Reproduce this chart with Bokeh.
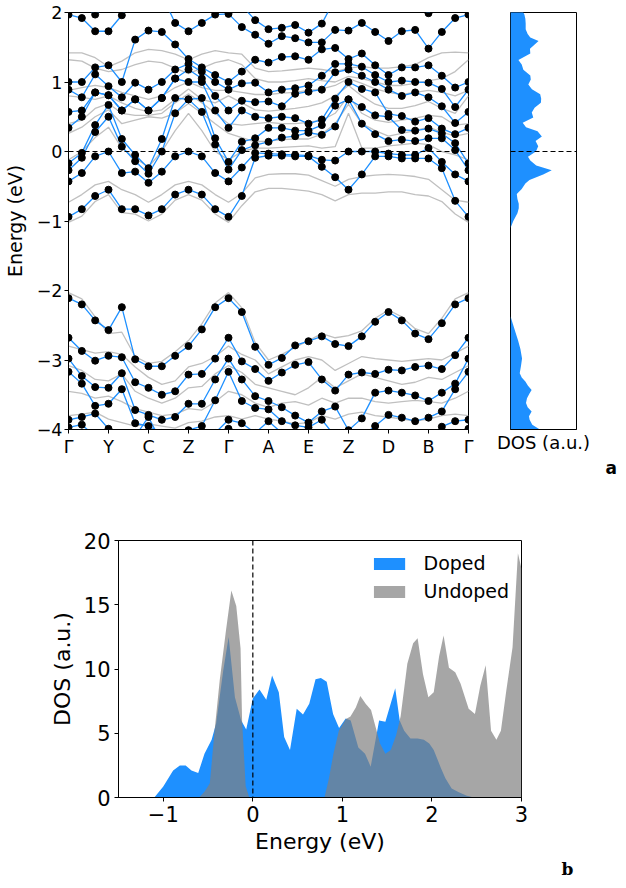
from bokeh.plotting import figure
from bokeh.layouts import column, row
from bokeh.models import FixedTicker, Span, Legend, LegendItem, Title
from bokeh.embed import file_html
from bokeh.resources import INLINE

FONT = "DejaVu Sans"
BLUE = "#1E90FF"

# ---------------- band structure data ----------------
kpath_labels = ["Γ", "Y", "C", "Z", "Γ", "A", "E", "Z", "D", "B", "Γ"]
k_index = list(range(31))          # 3 k-points per path segment

# doped (blue, with markers) conduction-side bands
cb1 = [-0.94,-0.83,-0.64,-0.55,-0.83,-0.83,-0.92,-0.83,-0.62,-0.55,-0.62,-0.83,-0.94,-0.64,-0.09,-0.06,-0.06,-0.07,-0.07,-0.22,-0.37,-0.55,-0.33,-0.07,-0.07,-0.10,-0.10,-0.10,-0.24,-0.71,-0.94]
cb2 = [-0.43,-0.31,-0.07,0.00,-0.31,-0.29,-0.45,-0.29,-0.07,0.00,-0.07,-0.31,-0.43,-0.23,-0.02,-0.03,-0.04,-0.05,-0.06,-0.12,-0.13,0.00,0.00,0.00,-0.03,-0.05,-0.05,0.05,-0.15,-0.33,-0.43]
cb3 = [-0.27,-0.09,0.28,0.50,0.07,-0.14,-0.32,0.00,0.55,0.75,0.57,0.10,-0.26,0.02,0.09,0.14,0.20,0.22,0.27,0.24,0.36,0.75,0.40,0.25,0.15,0.17,0.15,0.19,0.19,0.02,-0.27]
cb4 = [-0.17,-0.02,0.38,0.67,0.18,-0.05,-0.24,0.18,0.77,0.75,0.77,0.19,-0.15,0.14,0.19,0.34,0.34,0.30,0.30,0.38,0.66,0.75,0.64,0.52,0.50,0.31,0.30,0.33,0.26,0.12,-0.17]
cb5 = [0.34,0.50,0.85,0.81,0.59,0.75,0.59,0.77,1.05,1.00,1.00,0.59,0.34,0.59,0.50,0.48,0.50,0.48,0.40,0.46,0.76,1.00,0.90,0.85,0.54,0.51,0.43,0.48,0.33,0.25,0.34]
cb6 = [0.57,0.59,0.85,0.81,0.59,0.75,0.59,0.77,1.05,1.18,1.05,0.80,0.59,0.73,0.71,0.72,0.65,0.83,0.86,0.89,1.14,1.18,1.09,1.00,0.89,0.80,0.85,0.78,0.65,0.41,0.57]
cb7 = [0.89,0.78,1.11,0.94,0.78,0.99,0.89,1.00,1.18,1.26,1.15,1.00,0.89,0.98,0.99,0.85,0.89,0.91,0.95,1.09,1.26,1.26,1.22,1.10,1.00,1.02,1.00,0.99,0.90,0.64,0.89]
cb8 = [1.00,1.00,1.21,1.24,1.00,1.61,1.74,1.72,1.54,1.33,1.21,1.10,1.00,1.15,1.32,1.28,1.36,1.37,1.32,1.47,1.49,1.33,1.41,1.24,1.10,1.21,1.21,1.24,1.09,0.92,1.00]
cb9 = [1.97,1.92,1.73,1.73,1.96,2.25,2.40,2.25,1.85,1.73,1.85,1.97,1.98,1.79,1.68,1.55,1.66,1.63,1.57,1.57,1.75,1.74,1.85,1.72,1.59,1.73,1.75,1.48,1.72,1.92,1.97]
cb10 = [2.30,2.12,1.97,2.12,2.30,2.50,2.50,2.50,2.40,2.30,2.30,2.20,2.30,2.10,1.89,1.76,1.78,1.82,1.71,1.84,2.20,2.30,2.30,2.30,2.20,2.20,2.10,1.99,2.20,2.30,2.30]

# doped valence bands
vb1 = [-2.11,-2.20,-2.43,-2.57,-2.24,-2.99,-3.09,-3.09,-2.94,-2.80,-2.56,-2.24,-2.11,-2.31,-2.81,-3.07,-2.97,-2.79,-2.73,-2.66,-2.77,-2.80,-2.66,-2.45,-2.31,-2.43,-2.62,-2.70,-2.47,-2.20,-2.11]
vb2 = [-2.68,-2.87,-3.01,-2.94,-2.96,-3.32,-3.40,-3.50,-3.45,-3.21,-3.20,-2.98,-2.68,-3.02,-3.13,-3.30,-3.18,-3.07,-3.03,-3.28,-3.44,-3.21,-3.18,-3.20,-3.14,-3.15,-3.10,-3.08,-3.13,-2.93,-2.68]
vb3 = [-2.98,-3.23,-3.39,-3.40,-3.19,-3.72,-3.79,-3.86,-3.82,-3.63,-3.63,-3.28,-2.98,-3.28,-3.52,-3.59,-3.68,-3.80,-3.90,-3.74,-3.67,-4.01,-3.84,-3.47,-3.44,-3.47,-3.51,-3.59,-3.47,-3.34,-2.98]
vb4 = [-3.17,-3.34,-3.66,-3.63,-3.42,-3.91,-3.95,-4.05,-4.10,-4.01,-3.95,-3.58,-3.17,-3.59,-3.69,-3.71,-3.88,-3.94,-3.97,-3.86,-4.10,-4.20,-4.10,-3.95,-3.79,-3.83,-3.88,-3.83,-3.74,-3.42,-3.17]
vb5 = [-3.86,-3.82,-3.77,-3.99,-4.15,-4.10,-3.82,-4.20,-4.20,-4.20,-4.15,-4.05,-3.86,-3.91,-4.05,-3.88,-4.05,-4.10,-4.15,-4.20,-4.20,-4.20,-4.20,-4.20,-4.20,-4.20,-4.20,-4.15,-3.96,-3.88,-3.86]
vb6 = [-3.97,-3.93,-4.10,-4.20,-4.30,-4.20,-4.20,-4.20,-4.30,-4.30,-4.30,-4.20,-3.99,-4.10,-4.20,-4.20,-4.20,-4.20,-4.20,-4.20,-4.20,-4.20,-4.20,-4.20,-4.20,-4.20,-4.20,-4.20,-4.10,-4.05,-3.99]

# undoped (gray) bands
gc1 = [-1.02,-0.93,-0.72,-0.62,-0.88,-0.90,-1.00,-0.90,-0.70,-0.62,-0.70,-0.90,-1.02,-0.78,-0.58,-0.53,-0.53,-0.55,-0.57,-0.62,-0.71,-0.62,-0.60,-0.60,-0.58,-0.58,-0.62,-0.64,-0.72,-0.90,-1.02]
gc2 = [-0.73,-0.62,-0.48,-0.43,-0.55,-0.62,-0.73,-0.62,-0.48,-0.43,-0.48,-0.62,-0.73,-0.60,-0.38,-0.33,-0.32,-0.32,-0.34,-0.42,-0.50,-0.40,-0.36,-0.34,-0.33,-0.34,-0.36,-0.40,-0.55,-0.70,-0.73]
gc3 = [-0.12,0.00,0.20,0.35,0.05,-0.10,-0.22,0.00,0.30,0.55,0.30,0.00,-0.12,0.00,0.05,0.05,0.06,0.07,0.08,0.05,0.07,0.55,0.05,0.05,0.08,0.10,0.12,0.10,0.00,-0.05,-0.12]
gc4 = [0.26,0.35,0.50,0.60,0.40,0.45,0.50,0.48,0.55,0.69,0.55,0.40,0.26,0.20,0.14,0.15,0.17,0.18,0.18,0.25,0.40,0.68,0.40,0.30,0.22,0.26,0.30,0.35,0.28,0.22,0.26]
gc5 = [0.40,0.45,0.62,0.69,0.55,0.52,0.52,0.55,0.70,0.83,0.70,0.55,0.40,0.38,0.40,0.42,0.40,0.40,0.42,0.45,0.55,0.80,0.55,0.45,0.42,0.45,0.48,0.52,0.50,0.38,0.40]
gc6 = [0.80,0.78,0.75,0.80,0.70,0.62,0.57,0.60,0.75,0.90,0.75,0.70,0.80,0.70,0.60,0.58,0.60,0.62,0.65,0.70,0.80,0.95,0.80,0.68,0.62,0.62,0.66,0.72,0.62,0.55,0.80]
gc7 = [0.88,0.92,0.95,0.92,0.85,0.80,0.75,0.80,0.92,1.00,0.92,0.88,0.88,0.85,0.82,0.82,0.84,0.85,0.88,0.90,0.95,1.05,0.98,0.90,0.85,0.82,0.85,0.88,0.85,0.80,0.88]
gc8 = [1.32,1.30,1.20,1.15,1.18,1.25,1.30,1.28,1.20,1.12,1.20,1.28,1.32,1.25,1.05,1.00,1.00,1.02,1.05,1.02,1.00,1.08,1.05,1.00,0.95,0.95,0.98,1.02,1.05,1.15,1.32]
gc9 = [1.42,1.42,1.35,1.22,1.30,1.42,1.47,1.45,1.40,1.32,1.40,1.45,1.42,1.40,1.20,1.15,1.16,1.18,1.20,1.18,1.15,1.20,1.22,1.20,1.20,1.22,1.25,1.35,1.42,1.43,1.42]
gv1 = [-2.03,-2.12,-2.38,-2.62,-2.60,-2.95,-3.05,-3.02,-2.88,-2.72,-2.48,-2.18,-2.03,-2.25,-2.75,-3.00,-2.92,-2.82,-2.72,-2.62,-2.68,-2.65,-2.58,-2.40,-2.28,-2.38,-2.55,-2.62,-2.40,-2.12,-2.03]
gv2 = [-2.80,-2.85,-2.90,-2.88,-2.92,-3.10,-3.25,-3.35,-3.30,-3.10,-3.05,-2.95,-2.80,-2.92,-3.00,-3.20,-3.10,-3.00,-2.95,-3.00,-3.15,-3.05,-2.95,-2.98,-3.00,-3.02,-3.00,-2.98,-3.00,-2.90,-2.80]
gv3 = [-3.08,-3.15,-3.28,-3.30,-3.20,-3.45,-3.55,-3.62,-3.55,-3.40,-3.38,-3.20,-3.08,-3.18,-3.35,-3.40,-3.45,-3.50,-3.40,-3.25,-3.40,-3.30,-3.20,-3.25,-3.30,-3.35,-3.32,-3.25,-3.28,-3.18,-3.08]
gv4 = [-3.45,-3.48,-3.55,-3.52,-3.60,-3.70,-3.75,-3.80,-3.78,-3.70,-3.72,-3.60,-3.45,-3.50,-3.62,-3.68,-3.62,-3.60,-3.65,-3.55,-3.62,-3.55,-3.55,-3.60,-3.62,-3.60,-3.58,-3.60,-3.62,-3.55,-3.45]
gv5 = [-3.80,-3.78,-3.75,-3.85,-3.90,-3.95,-3.92,-3.95,-3.98,-3.90,-3.88,-3.82,-3.80,-3.85,-3.80,-3.85,-3.88,-3.92,-3.90,-3.80,-3.85,-3.78,-3.75,-3.80,-3.82,-3.85,-3.88,-3.85,-3.80,-3.78,-3.80]

# ---------------- DOS data ----------------
E_doped = [-4.00,-3.93,-3.86,-3.81,-3.74,-3.68,-3.62,-3.55,-3.48,-3.43,-3.37,-3.31,-3.25,-3.19,-3.08,-2.98,-2.84,-2.72,-2.60,-2.48,-2.37,
           -1.10,-1.00,-0.89,-0.815,-0.75,-0.685,-0.61,-0.54,-0.46,-0.41,-0.33,-0.27,-0.20,-0.13,-0.074,0.00,0.074,0.15,0.215,0.29,0.35,
           0.415,0.49,0.56,0.63,0.70,0.76,0.825,0.896,0.963,1.037,1.093,1.178,1.253,1.316,1.41,1.48,1.59,1.64,1.69,1.76,1.84,1.91,1.97,
           2.02,2.10,2.15,2.22,2.30,2.39,2.47,3.00]
dos_doped = [8.9,6.6,5.8,5.6,6.4,5.2,4.7,5.0,5.8,6.4,5.3,4.5,3.4,2.8,3.2,3.5,3.0,2.3,1.5,0.7,0.0,
             0.0,0.85,2.1,2.5,2.5,2.1,1.9,3.4,4.5,5.75,9.9,12.5,7.8,6.0,5.3,7.7,8.4,7.6,9.5,8.2,4.7,
             3.7,6.9,6.45,7.3,9.2,9.3,9.0,6.5,5.4,6.15,6.0,3.9,3.4,2.4,6.0,5.9,8.5,6.0,5.2,4.6,4.6,4.5,4.2,
             3.7,2.3,1.5,0.7,0.4,0.13,0.0,0.0]
E_undoped = [-0.60,-0.54,-0.48,-0.43,-0.37,-0.30,-0.24,-0.185,-0.137,-0.12,-0.08,-0.04,0.80,0.85,0.90,0.96,1.04,1.09,1.15,1.20,
             1.26,1.32,1.37,1.42,1.48,1.54,1.60,1.65,1.725,1.79,1.84,1.90,1.96,2.02,2.08,2.13,2.19,2.26,2.32,2.41,2.48,2.54,2.60,
             2.66,2.72,2.77,2.83,2.90,2.96,3.00]
dos_undoped = [0.0,0.45,1.1,5.0,9.1,13.0,16.1,14.9,11.6,6.0,0.9,0.0,0.0,1.5,3.4,5.2,6.1,6.3,7.0,7.9,
               7.3,6.8,5.5,4.2,3.4,3.7,4.85,6.3,10.4,12.0,12.4,9.6,7.8,8.2,11.0,12.6,10.1,9.75,8.85,6.9,6.5,8.7,10.3,
               5.2,4.5,5.2,8.3,11.7,19.0,17.8]


def minus(v):
    return ("−" + str(abs(v))) if v < 0 else str(v)


def base_style(p, tick_px, label_px):
    p.grid.visible = False
    p.background_fill_color = "white"
    p.border_fill_color = "white"
    p.outline_line_color = "black"
    p.outline_line_width = 1
    p.outline_line_alpha = 1.0
    p.axis.axis_line_color = "black"
    p.axis.major_tick_line_color = "black"
    p.axis.minor_tick_line_color = None
    p.axis.major_tick_in = 0
    p.axis.major_tick_out = 4
    p.axis.major_label_text_font = FONT
    p.axis.major_label_text_font_size = tick_px
    p.axis.major_label_text_color = "black"
    p.axis.axis_label_text_font = FONT
    p.axis.axis_label_text_font_size = label_px
    p.axis.axis_label_text_font_style = "normal"
    p.axis.axis_label_text_color = "black"


# ---------------- panel a: band structure ----------------
kx = [i / 3.0 for i in k_index]
p_band = figure(frame_width=400, frame_height=417, x_range=(0, 10), y_range=(-4, 2),
                min_border_left=58, min_border_right=20, min_border_top=12, min_border_bottom=50,
                output_backend="svg", toolbar_location=None)
base_style(p_band, "17.5px", "19px")

gray_bands = [gc1, gc2, gc3, gc4, gc5, gc6, gc7, gc8, gc9, gv1, gv2, gv3, gv4, gv5]
blue_bands = [cb1, cb2, cb3, cb4, cb5, cb6, cb7, cb8, cb9, cb10, vb1, vb2, vb3, vb4, vb5, vb6]
p_band.multi_line(xs=[kx] * len(gray_bands), ys=gray_bands, line_color="#c0c0c0", line_width=1.3)
p_band.multi_line(xs=[kx] * len(blue_bands), ys=blue_bands, line_color=BLUE, line_width=1.3)
mx = [x for b in blue_bands for x in kx]
my = [y for b in blue_bands for y in b]
p_band.scatter(mx, my, size=7, marker="circle", fill_color="black", line_color="black")
p_band.add_layout(Span(location=0, dimension="width", line_color="black", line_dash="5 3", line_width=1.2))

p_band.xaxis.ticker = FixedTicker(ticks=list(range(len(kpath_labels))))
p_band.xaxis.major_label_overrides = {i: lab for i, lab in enumerate(kpath_labels)}
p_band.xaxis.major_label_standoff = 3
e_ticks = [-4, -3, -2, -1, 0, 1, 2]
p_band.yaxis.ticker = FixedTicker(ticks=e_ticks)
p_band.yaxis.major_label_overrides = {t: minus(t) for t in e_ticks}
p_band.yaxis.major_label_standoff = 2
p_band.yaxis.axis_label = "Energy (eV)"
p_band.yaxis.axis_label_standoff = 8

# side DOS panel
p_side = figure(frame_width=66, frame_height=417, x_range=(0, 20), y_range=(-4, 2),
                min_border_left=22, min_border_right=44, min_border_top=12, min_border_bottom=50,
                output_backend="svg", toolbar_location=None)
base_style(p_side, "17.5px", "18px")
p_side.harea(x1=0, x2=dos_doped, y=E_doped, fill_color=BLUE, fill_alpha=1.0)
p_side.add_layout(Span(location=0, dimension="width", line_color="black", line_dash="5 3", line_width=1.2))
p_side.yaxis.visible = False
p_side.xaxis.ticker = FixedTicker(ticks=[])
p_side.xaxis.major_tick_line_color = None
p_side.xaxis.axis_label = "DOS (a.u.)"
p_side.xaxis.axis_label_standoff = 2
p_side.add_layout(Title(text="a", align="left", offset=95, standoff=0, text_font=FONT,
                        text_font_style="bold", text_font_size="17px", text_color="black"), "below")

# ---------------- panel b: DOS comparison ----------------
p_dos = figure(frame_width=403, frame_height=257, x_range=(-1.5, 3), y_range=(0, 20),
               min_border_left=118, min_border_right=89, min_border_top=61, min_border_bottom=80,
               output_backend="svg", toolbar_location=None)
base_style(p_dos, "21px", "22px")
r_d = p_dos.varea(x=E_doped, y1=0, y2=dos_doped, fill_color=BLUE, fill_alpha=1.0)
r_u = p_dos.varea(x=E_undoped, y1=0, y2=dos_undoped, fill_color="gray", fill_alpha=0.7)
p_dos.add_layout(Span(location=0, dimension="height", line_color="black", line_dash="5 3", line_width=1.2))
x_ticks = [-1, 0, 1, 2, 3]
p_dos.xaxis.ticker = FixedTicker(ticks=x_ticks)
p_dos.xaxis.major_label_overrides = {t: minus(t) for t in x_ticks}
p_dos.xaxis.axis_label = "Energy (eV)"
p_dos.xaxis.major_label_standoff = 4
p_dos.xaxis.axis_label_standoff = 4
p_dos.yaxis.ticker = FixedTicker(ticks=[0, 5, 10, 15, 20])
p_dos.yaxis.axis_label = "DOS (a.u.)"
p_dos.yaxis.major_label_standoff = 4
p_dos.yaxis.axis_label_standoff = 6

legend = Legend(items=[LegendItem(label="Doped", renderers=[r_d]),
                       LegendItem(label="Undoped", renderers=[r_u])],
                location="top_right", border_line_color=None, background_fill_alpha=0.0,
                label_text_font=FONT, label_text_font_size="19px", label_text_color="black",
                glyph_width=39, glyph_height=15, label_height=20, label_standoff=15,
                spacing=6, padding=4, margin=12)
p_dos.add_layout(legend)
p_dos.add_layout(Title(text="b", align="left", offset=443, standoff=0, text_font="DejaVu Serif",
                       text_font_style="bold", text_font_size="17px", text_color="black"), "below")

layout = column(row(p_band, p_side), p_dos)
open("out.html", "w").write(file_html(layout, INLINE))
